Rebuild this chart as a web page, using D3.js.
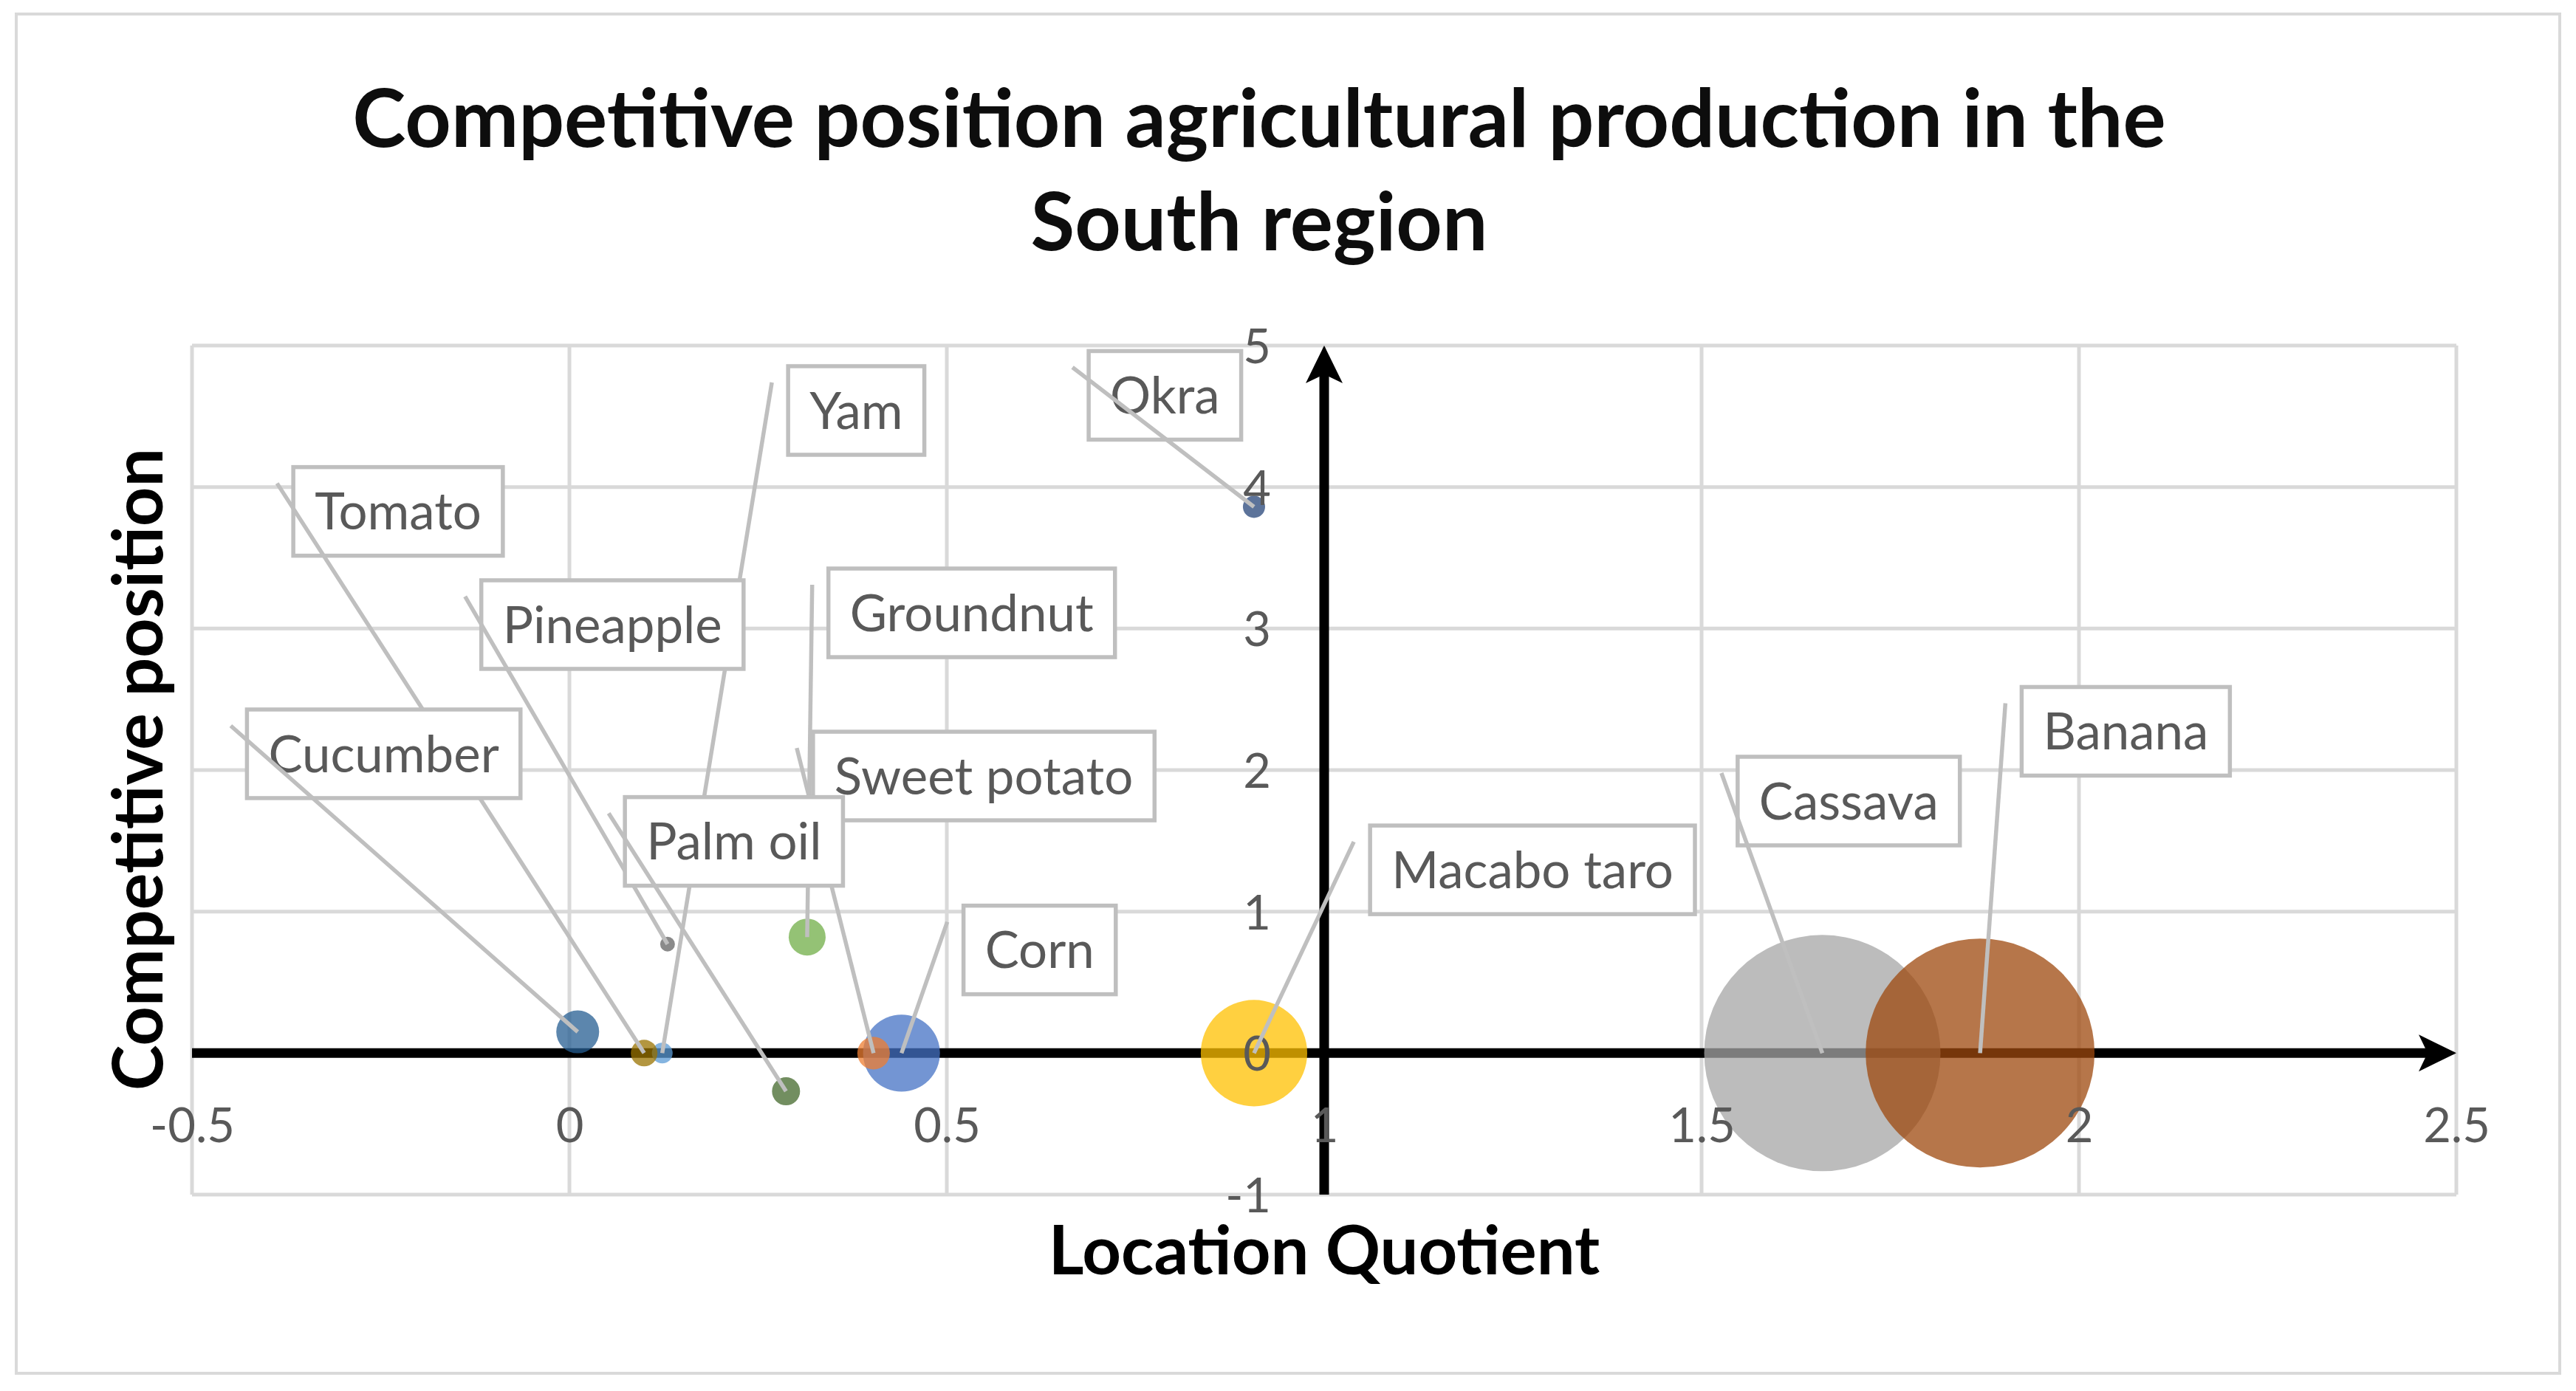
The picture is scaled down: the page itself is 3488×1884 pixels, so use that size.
<!DOCTYPE html>
<html>
<head>
<meta charset="utf-8">
<script src="https://cdn.jsdelivr.net/npm/d3@7/dist/d3.min.js"></script>
<style>
  body { margin: 0; background: #fff; }
  text { font-family: Lato, "Open Sans", sans-serif; }
</style>
</head>
<body>
<div id="chart"></div>
<script>
// series in the order they were added to the chart (later ones are drawn on top)
var crops = ["Corn", "Sweet potato", "Cassava", "Macabo taro", "Yam", "Groundnut", "Okra", "Banana", "Pineapple", "Tomato", "Cucumber", "Palm oil"];
var locationQuotient = [0.44, 0.403, 1.66, 0.907, 0.123, 0.315, 0.907, 1.869, 0.13, 0.099, 0.011, 0.287];
var competitivePosition = [0, 0, 0, 0, 0, 0.82, 3.86, 0, 0.77, 0, 0.15, -0.27];
var bubbleSize = [10.6, 1.9, 100, 20.3, 0.77, 2.44, 0.88, 93.8, 0.39, 1.27, 3.29, 1.41];
var colors = ["#4472C4", "#ED7D31", "#A5A5A5", "#FFC000", "#5B9BD5", "#70AD47", "#264478", "#9E480E", "#636363", "#997300", "#255E91", "#43682B"];

// where the data labels were dragged to (box centre, in axis units)
var labelX = [0.623, 0.549, 1.695, 1.276, 0.38, 0.533, 0.789, 2.062, 0.057, -0.227, -0.246, 0.218];
var labelY = [0.729, 1.958, 1.781, 1.295, 4.541, 3.111, 4.648, 2.274, 3.028, 3.828, 2.115, 1.496];

var xTicks = [-0.5, 0, 0.5, 1, 1.5, 2, 2.5];
var yTicks = [-1, 0, 1, 2, 3, 4, 5];

var width = 3488;
var height = 1884;

var svg = d3.select('#chart')
  .append('svg')
  .attr('width', width)
  .attr('height', height);

svg.append('rect')
  .attr('x', 22).attr('y', 19)
  .attr('width', 3444).attr('height', 1841)
  .attr('fill', '#fff')
  .attr('stroke', '#d9d9d9')
  .attr('stroke-width', 4);

var x = d3.scaleLinear().domain([-0.5, 2.5]).range([260, 3326]);
var y = d3.scaleLinear().domain([-1, 5]).range([1618, 468]);
var r = d3.scaleSqrt().domain([0, 100]).range([0, 160]);

// gridlines
var grid = svg.append('g');
grid.selectAll('.vgrid')
  .data(xTicks)
  .enter()
  .append('line')
  .attr('x1', function(d) { return x(d); })
  .attr('x2', function(d) { return x(d); })
  .attr('y1', y(-1)).attr('y2', y(5))
  .attr('stroke', '#d9d9d9')
  .attr('stroke-width', 5);
grid.selectAll('.hgrid')
  .data(yTicks)
  .enter()
  .append('line')
  .attr('x1', x(-0.5)).attr('x2', x(2.5))
  .attr('y1', function(d) { return y(d); })
  .attr('y2', function(d) { return y(d); })
  .attr('stroke', '#d9d9d9')
  .attr('stroke-width', 5);

// black axis lines with arrow heads, crossing at x = 1 and y = 0
var arrowLen = 51, arrowHalf = 25, notch = 39;
var axes = svg.append('g');
axes.append('line')
  .attr('x1', x(-0.5)).attr('x2', x(2.5) - notch)
  .attr('y1', y(0)).attr('y2', y(0))
  .attr('stroke', '#000')
  .attr('stroke-width', 13);
axes.append('path')
  .attr('d', 'M' + x(2.5) + ',' + y(0) +
    'L' + (x(2.5) - arrowLen) + ',' + (y(0) - arrowHalf) +
    'L' + (x(2.5) - notch) + ',' + y(0) +
    'L' + (x(2.5) - arrowLen) + ',' + (y(0) + arrowHalf) + 'Z')
  .attr('fill', '#000');
axes.append('line')
  .attr('x1', x(1)).attr('x2', x(1))
  .attr('y1', y(-1)).attr('y2', y(5) + notch)
  .attr('stroke', '#000')
  .attr('stroke-width', 13);
axes.append('path')
  .attr('d', 'M' + x(1) + ',' + y(5) +
    'L' + (x(1) - arrowHalf) + ',' + (y(5) + arrowLen) +
    'L' + x(1) + ',' + (y(5) + notch) +
    'L' + (x(1) + arrowHalf) + ',' + (y(5) + arrowLen) + 'Z')
  .attr('fill', '#000');

// bubbles
svg.append('g')
  .selectAll('circle')
  .data(crops)
  .enter()
  .append('circle')
  .attr('cx', function(d, i) { return x(locationQuotient[i]); })
  .attr('cy', function(d, i) { return y(competitivePosition[i]); })
  .attr('r', function(d, i) { return r(bubbleSize[i]); })
  .attr('fill', function(d, i) { return colors[i]; })
  .attr('fill-opacity', 0.75);

// tick labels
var xAxis = svg.append('g')
  .attr('transform', 'translate(0,' + (y(0) + 97) + ')')
  .call(d3.axisBottom(x).tickValues(xTicks).tickSize(0).tickPadding(0)
    .tickFormat(function(d) { return d; }));
var yAxis = svg.append('g')
  .attr('transform', 'translate(' + (x(1) - 72) + ',0)')
  .call(d3.axisLeft(y).tickValues(yTicks).tickSize(0).tickPadding(0)
    .tickFormat(function(d) { return d; }));
[xAxis, yAxis].forEach(function(a) {
  a.select('.domain').remove();
  a.selectAll('text')
    .attr('dy', '0.36em')
    .attr('y', 0)
    .style('font-family', 'Lato')
    .style('font-size', '65px')
    .attr('fill', '#595959');
});

// data labels with leader lines
svg.append('g')
  .selectAll('g')
  .data(crops)
  .enter()
  .append('g')
  .each(function(d, i) {
    var g = d3.select(this);
    var cx = x(labelX[i]), cy = y(labelY[i]);
    var t = g.append('text')
      .attr('x', cx).attr('y', cy)
      .attr('dy', '0.36em')
      .attr('text-anchor', 'middle')
      .style('font-size', '69px')
      .attr('fill', '#595959')
      .text(d);
    var w = t.node().getComputedTextLength() + 58;
    var h = 120;
    g.insert('rect', 'text')
      .attr('x', cx - w / 2).attr('y', cy - h / 2)
      .attr('width', w).attr('height', h)
      .attr('fill', '#fff')
      .attr('stroke', '#bfbfbf')
      .attr('stroke-width', 5.5);
    g.append('line')
      .attr('x1', cx - w / 2 - 22).attr('y1', cy - h / 2 + 22)
      .attr('x2', x(locationQuotient[i])).attr('y2', y(competitivePosition[i]))
      .attr('stroke', '#bfbfbf')
      .attr('stroke-width', 5.5);
  });

// titles
var title = svg.append('text')
  .attr('text-anchor', 'middle')
  .style('font-weight', 'bold')
  .style('font-size', '109px')
  .attr('fill', '#0d0d0d');
title.append('tspan').attr('x', 1705).attr('y', 199).text('Competitive position agricultural production in the');
title.append('tspan').attr('x', 1705).attr('y', 339).text('South region');

svg.append('text')
  .attr('x', 1793).attr('y', 1726)
  .attr('text-anchor', 'middle')
  .style('font-weight', 'bold')
  .style('font-size', '92px')
  .text('Location Quotient');

svg.append('text')
  .attr('transform', 'translate(220,1042) rotate(-90)')
  .attr('text-anchor', 'middle')
  .style('font-weight', 'bold')
  .style('font-size', '93px')
  .text('Competitive position');
</script>
</body>
</html>
